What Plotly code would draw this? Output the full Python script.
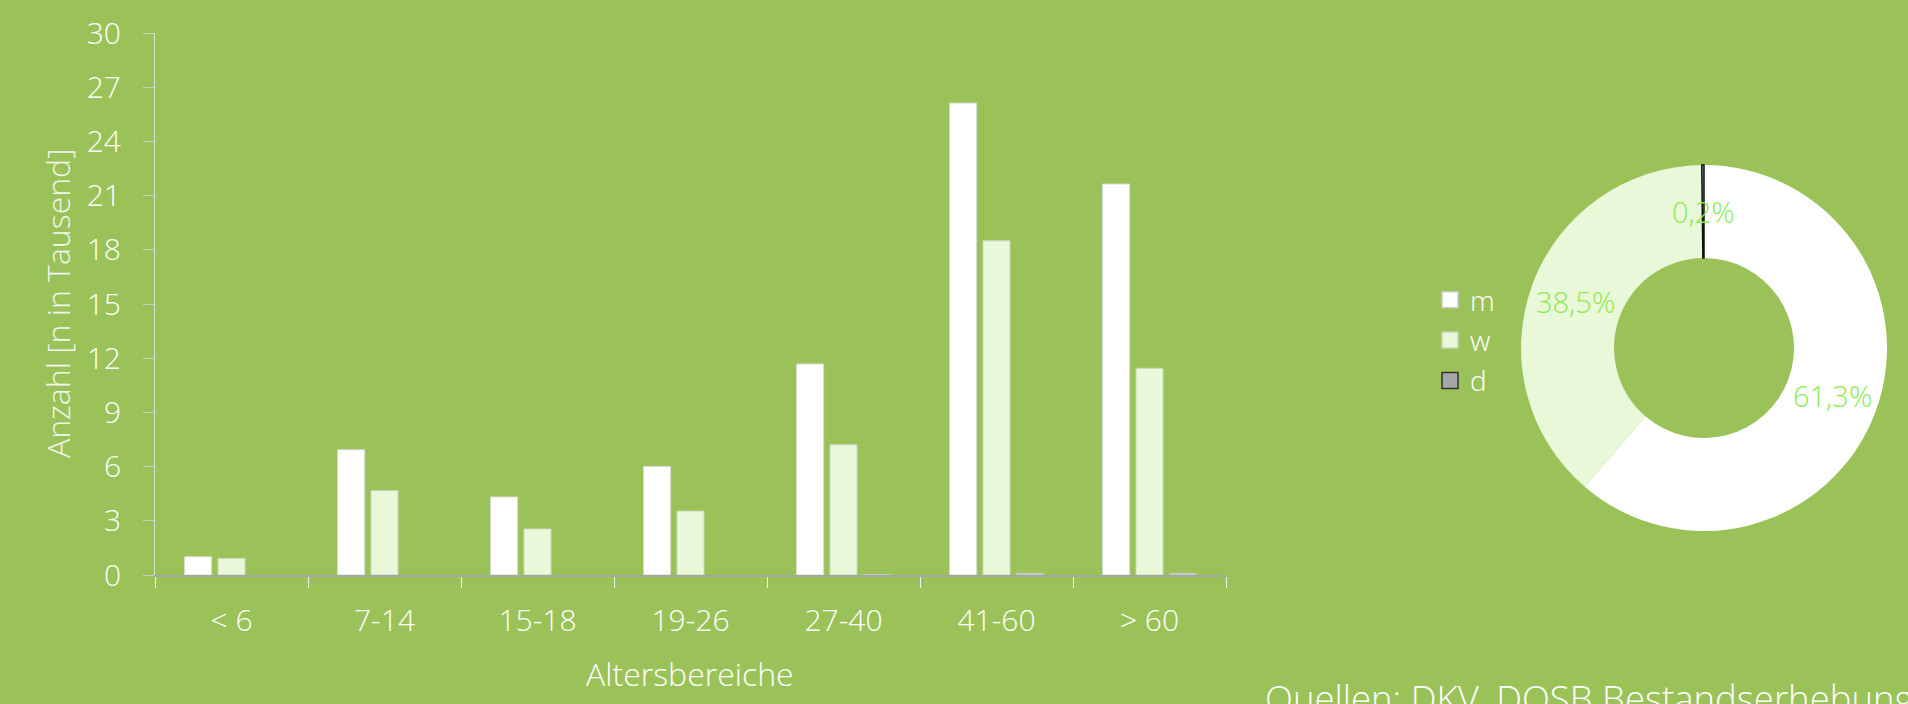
import math
import plotly.graph_objects as go

# ---- data ----
categories = ["< 6", "7-14", "15-18", "19-26", "27-40", "41-60", "> 60"]
m_values = [1.01, 6.93, 4.32, 6.01, 11.68, 26.12, 21.64]
w_values = [0.92, 4.67, 2.55, 3.54, 7.21, 18.50, 11.44]
d_values = [0.0, 0.0, 0.0, 0.0, 0.01, 0.12, 0.12]
series_names = ["m", "w", "d"]
y_ticks = [0, 3, 6, 9, 12, 15, 18, 21, 24, 27, 30]
y_title = "Anzahl [n in Tausend]"
x_title = "Altersbereiche"
source_text = "Quellen: DKV, DOSB Bestandserhebung"

# ---- style ----
W, H = 1908, 704
BG = "#9AC259"
C_M = "#FFFFFF"
C_W = "#E8F8D8"
C_D = "#A6A6A6"
LABEL_GREEN = "#8DEB4E"
FONT = "Open Sans"

def px_x(x):
    return x / W

def px_y(y):
    return 1 - y / H

fig = go.Figure()

bar_colors = [C_M, C_W, "#C4C8BE"]
bar_lines = ["#D6DCCF", "#C9D6BC", "#C4C8BE"]
bar_lw = [1, 1, 0]
for name, vals, col, lc, lw in zip(series_names, [m_values, w_values, d_values], bar_colors, bar_lines, bar_lw):
    fig.add_trace(go.Bar(
        x=categories, y=vals, name=name, marker=dict(color=col, line=dict(color=lc, width=lw)),
        showlegend=False, hoverinfo="x+y+name"))

# legend entries (dummy markers)
leg_colors = [C_M, C_W, C_D]
leg_lines = ["#C8CCC4", "#C8D4BC", "#333333"]
for i, (name, col, lc) in enumerate(zip(series_names, leg_colors, leg_lines)):
    fig.add_trace(go.Scatter(
        x=[None], y=[None], mode="markers", name=name, legendgroup=name,
        marker=dict(symbol="square", size=16, color=col, line=dict(color=lc, width=1.5)),
        showlegend=True))

# donut
totals = [sum(m_values), sum(w_values), sum(d_values)]
grand = sum(totals)
cx, cy, R, r_in = 1704, 348, 183, 90
fig.add_trace(go.Pie(
    values=totals, labels=series_names, sort=False, direction="clockwise", rotation=0,
    hole=r_in / R, textinfo="none", showlegend=False,
    marker=dict(colors=[C_M, C_W, C_D], line=dict(color=["rgba(0,0,0,0)", "rgba(0,0,0,0)", "#111111"], width=[0, 0, 1.5])),
    domain=dict(x=[px_x(cx - R), px_x(cx + R)], y=[px_y(cy + R), px_y(cy - R)]),
))

annotations = []
cum = 0.0
r_mid = (R + r_in) / 2
for t in totals:
    frac = t / grand
    mid = (cum + frac / 2) * 2 * math.pi
    cum += frac
    ax = cx + r_mid * math.sin(mid)
    ay = cy - r_mid * math.cos(mid)
    annotations.append(dict(
        x=px_x(ax), y=px_y(ay), xref="paper", yref="paper", showarrow=False,
        text=f"{frac*100:.1f}%".replace(".", ","),
        font=dict(family=FONT, size=29, color=LABEL_GREEN, weight=300),
        xanchor="center", yanchor="middle"))

annotations.append(dict(x=px_x(57), y=(px_y(575) + px_y(33)) / 2, xref="paper", yref="paper",
                        text=y_title, textangle=-90, showarrow=False,
                        font=dict(family=FONT, size=32, color="#F2F6EC", weight=300),
                        xanchor="center", yanchor="middle"))
annotations.append(dict(x=px_x(690), y=px_y(673), xref="paper", yref="paper",
                        text=x_title, showarrow=False,
                        font=dict(family=FONT, size=32, color="#FFFFFF", weight=300),
                        xanchor="center", yanchor="middle"))
annotations.append(dict(x=px_x(1263), y=px_y(671), xref="paper", yref="paper",
                        text=source_text, showarrow=False,
                        font=dict(family=FONT, size=36.5, color="#FFFFFF", weight=300),
                        xanchor="left", yanchor="top"))

fig.update_layout(
    width=W, height=H, template="none",
    paper_bgcolor=BG, plot_bgcolor=BG,
    margin=dict(l=0, r=0, t=0, b=0),
    font=dict(family=FONT, size=30, color="#FFFFFF", weight=300),
    barmode="group", bargap=0.345, bargroupgap=0.19,
    xaxis=dict(domain=[px_x(155), px_x(1226)], showgrid=False, zeroline=False,
               showline=True, linecolor="#A3A99A", linewidth=2,
               ticks="outside", tickson="boundaries", ticklen=11, tickcolor="#EEF2E8", tickwidth=1,
               tickfont=dict(family=FONT, size=30, color="#FFFFFF", weight=300),
               ticklabelstandoff=18, automargin=False, fixedrange=True),
    yaxis=dict(domain=[px_y(575), px_y(33)], range=[0, 30], tickvals=y_ticks,
               showgrid=False, zeroline=False, showline=True, linecolor="#D9E2CC", linewidth=1,
               ticks="outside", ticklen=11, tickcolor="#C9D0BF", tickwidth=1,
               tickfont=dict(family=FONT, size=30, color="#FFFFFF", weight=300),
               ticklabelstandoff=16, automargin=False, fixedrange=True),
    legend=dict(x=px_x(1430), y=px_y(275), xanchor="left", yanchor="top",
                bgcolor="rgba(0,0,0,0)", borderwidth=0, tracegroupgap=1,
                font=dict(family=FONT, size=28, color="#FFFFFF", weight=300)),
    annotations=annotations,
    showlegend=True,
)

fig.write_html("out.html", config={"displayModeBar": False},
               post_script="document.body.style.margin='0px';document.body.style.overflow='hidden';")
